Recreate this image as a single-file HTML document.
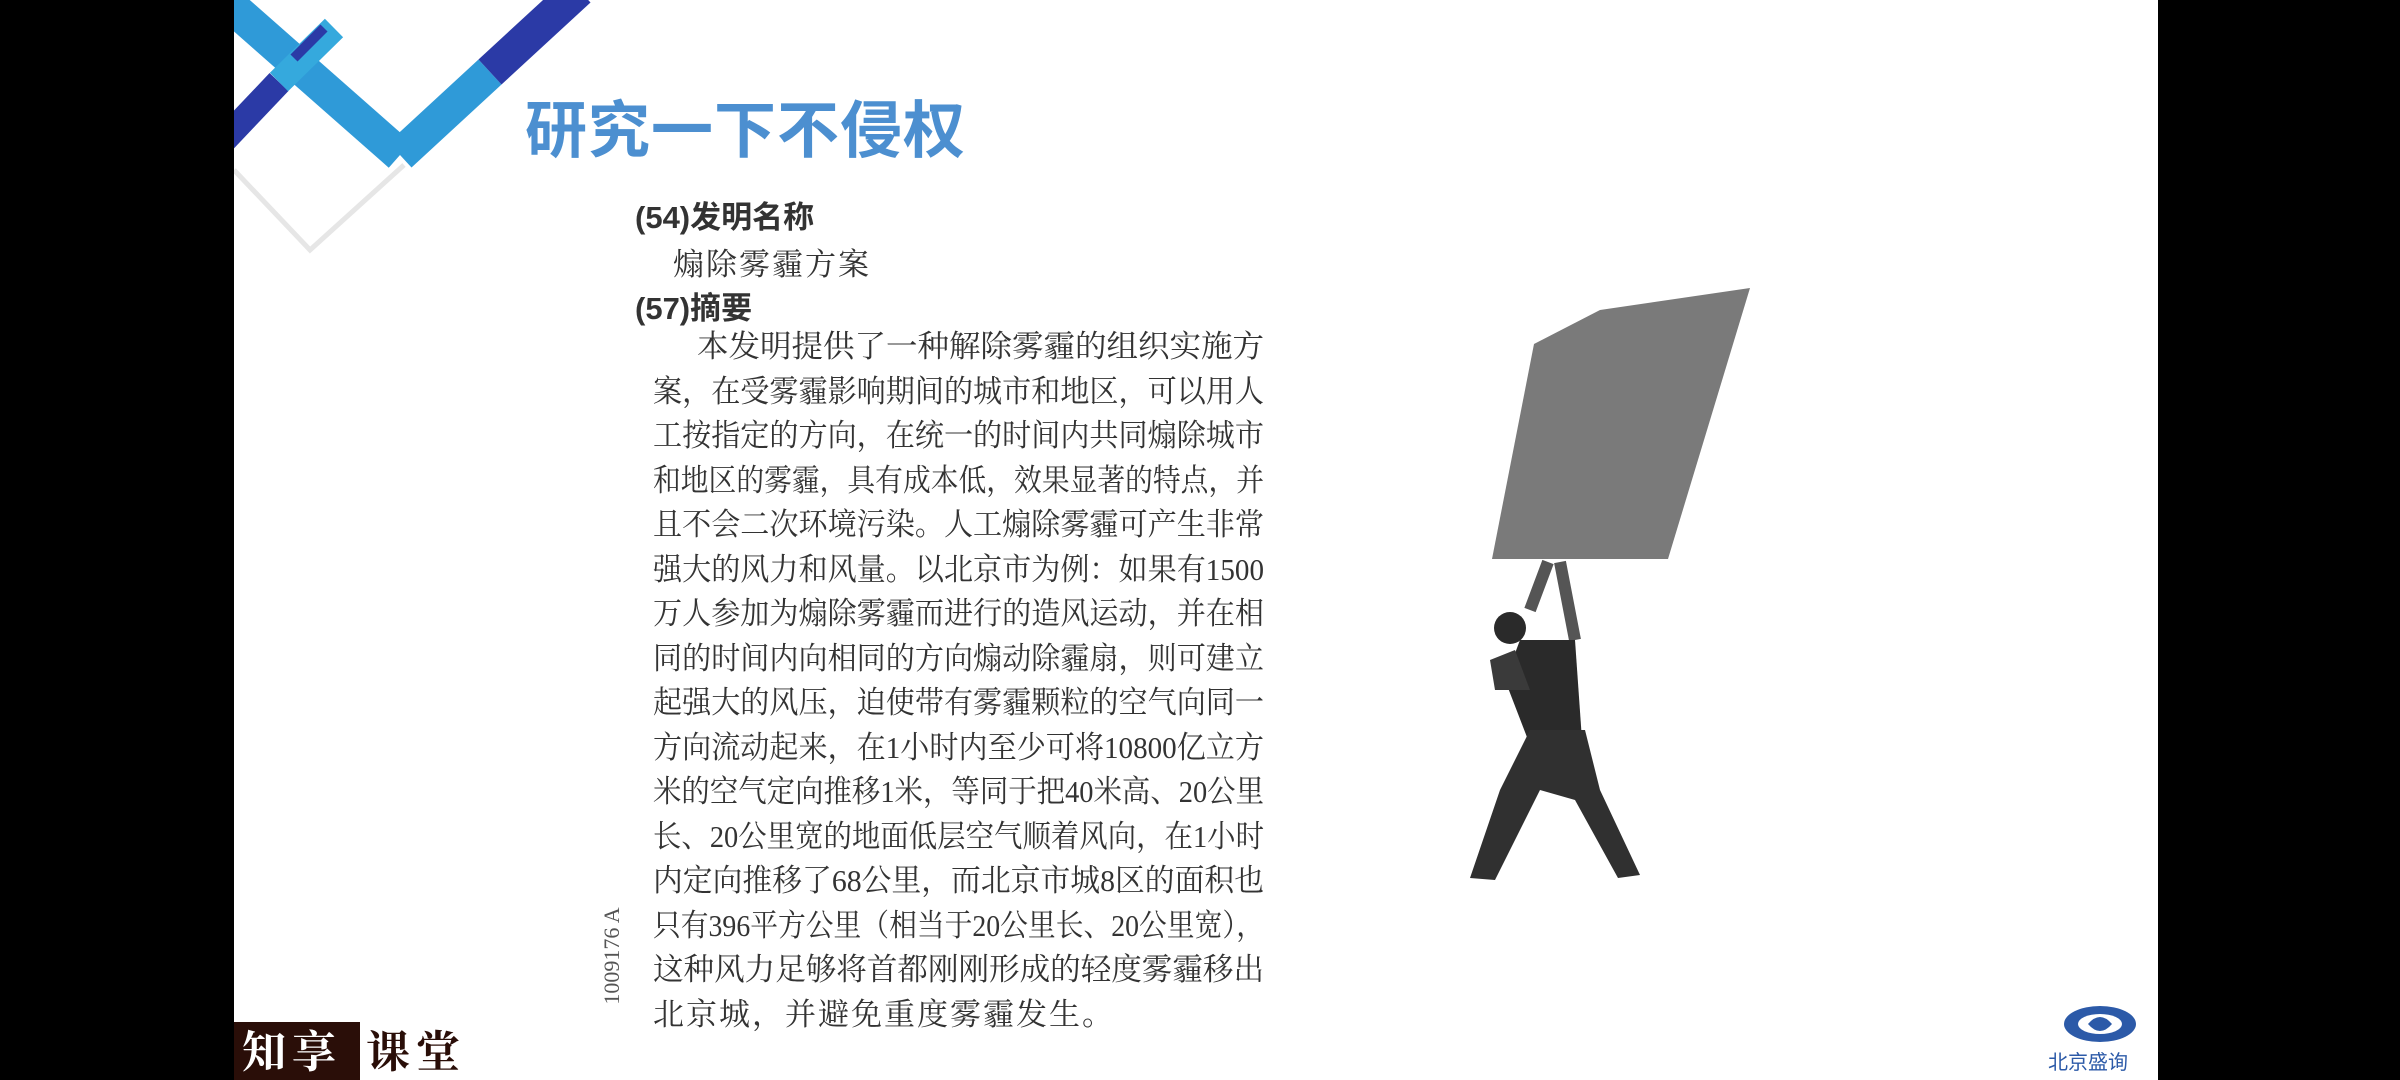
<!DOCTYPE html>
<html><head><meta charset="utf-8"><style>
body{margin:0;width:2400px;height:1080px;background:#000;overflow:hidden;position:relative;font-family:"Liberation Serif","Noto Serif CJK SC",serif}
#slide{position:absolute;left:234px;top:0;width:1924px;height:1080px;background:#fff;overflow:hidden}
.t{position:absolute;white-space:nowrap;color:#2a2a2a}
.ln{position:absolute;left:653px;font-size:31px;color:#333;line-height:44px;white-space:nowrap;transform-origin:0 50%}
</style></head><body>
<div id="slide">
<svg width="1924" height="1080" style="position:absolute;left:0;top:0">
 <polyline points="0,170 76,250 170,165" fill="none" stroke="#e6e6e6" stroke-width="5"/>
 <line x1="-10" y1="0" x2="166" y2="155" stroke="#2f9ad8" stroke-width="34"/>
 <line x1="166" y1="155" x2="256" y2="72" stroke="#2f9ad8" stroke-width="34"/>
 <line x1="256" y1="72" x2="345" y2="-10" stroke="#2b3aa6" stroke-width="34"/>
 <line x1="-10" y1="140" x2="45" y2="82" stroke="#2b3aa6" stroke-width="26"/>
 <line x1="45" y1="82" x2="100" y2="28" stroke="#35a9dd" stroke-width="26"/>
 <line x1="60" y1="58" x2="90" y2="28" stroke="#2b3aa6" stroke-width="10"/>
</svg>
<div class="t" style="left:291px;top:80px;font:bold 62px 'Liberation Sans','Noto Sans CJK SC',sans-serif;color:#4c8fd0;letter-spacing:1px">研究一下不侵权</div>
<div class="t" style="left:293px;top:943px;width:170px;text-align:center;transform:rotate(-90deg);font-size:22px;color:#555">1009176 A</div>
<div style="position:absolute;left:0;top:1022px;width:126px;height:58px;background:#2a0e08"></div>
<div class="t" style="left:8px;top:1016px;font:bold 44px 'Liberation Serif','Noto Serif CJK SC',serif;color:#fff;letter-spacing:6px">知享</div>
<div class="t" style="left:132px;top:1016px;font:bold 44px 'Liberation Serif','Noto Serif CJK SC',serif;color:#2a0e08;letter-spacing:6px">课堂</div>
<svg width="80" height="40" style="position:absolute;left:1826px;top:1004px">
 <ellipse cx="40" cy="20" rx="36" ry="18" fill="#2c5aa8"/><ellipse cx="40" cy="20" rx="22" ry="10" fill="#fff"/><path d="M28 20 q12 -14 24 0 q-12 14 -24 0" fill="#2c5aa8"/>
</svg>
<div class="t" style="left:1814px;top:1046px;font:20px 'Liberation Sans','Noto Sans CJK SC',sans-serif;color:#2c5aa8">北京盛询</div>
</div>
<div class="t" style="left:635px;top:192px;font:bold 31px 'Liberation Sans','Noto Sans CJK SC',sans-serif;color:#333">(54)发明名称</div>
<div class="t" style="left:673px;top:239px;font-size:31px;letter-spacing:2px;color:#333">煽除雾霾方案</div>
<div class="t" style="left:635px;top:283px;font:bold 31px 'Liberation Sans','Noto Sans CJK SC',sans-serif;color:#333">(57)摘要</div>
<div>
<div class="ln" data-w="567" style="top:325px;left:697px">本发明提供了一种解除雾霾的组织实施方</div>
<div class="ln" data-w="611" style="top:370px">案，在受雾霾影响期间的城市和地区，可以用人</div>
<div class="ln" data-w="611" style="top:414px">工按指定的方向，在统一的时间内共同煽除城市</div>
<div class="ln" data-w="611" style="top:459px">和地区的雾霾，具有成本低，效果显著的特点，并</div>
<div class="ln" data-w="611" style="top:503px">且不会二次环境污染。人工煽除雾霾可产生非常</div>
<div class="ln" data-w="611" style="top:548px">强大的风力和风量。以北京市为例：如果有1500</div>
<div class="ln" data-w="611" style="top:592px">万人参加为煽除雾霾而进行的造风运动，并在相</div>
<div class="ln" data-w="611" style="top:637px">同的时间内向相同的方向煽动除霾扇，则可建立</div>
<div class="ln" data-w="611" style="top:681px">起强大的风压，迫使带有雾霾颗粒的空气向同一</div>
<div class="ln" data-w="611" style="top:726px">方向流动起来，在1小时内至少可将10800亿立方</div>
<div class="ln" data-w="611" style="top:770px">米的空气定向推移1米，等同于把40米高、20公里</div>
<div class="ln" data-w="611" style="top:815px">长、20公里宽的地面低层空气顺着风向，在1小时</div>
<div class="ln" data-w="611" style="top:859px">内定向推移了68公里，而北京市城8区的面积也</div>
<div class="ln" data-w="611" style="top:904px">只有396平方公里（相当于20公里长、20公里宽），</div>
<div class="ln" data-w="611" style="top:948px">这种风力足够将首都刚刚形成的轻度雾霾移出</div>
<div class="ln" style="top:993px;letter-spacing:2px">北京城，并避免重度雾霾发生。</div>
</div>
<svg width="2400" height="1080" style="position:absolute;left:0;top:0">
 <polygon points="1534,344 1600,310 1750,288 1668,559 1492,559" fill="#7a7a7a"/>
 <path d="M1548,562 L1530,610 M1560,562 L1575,640" stroke="#555" stroke-width="12" fill="none"/>
 <circle cx="1510" cy="628" r="16" fill="#2a2a2a"/>
 <polygon points="1520,640 1575,640 1582,740 1530,745 1505,680" fill="#2a2a2a"/>
 <polygon points="1530,730 1585,730 1600,790 1640,875 1618,878 1575,800 1540,790 1495,880 1470,878 1500,790" fill="#303030"/>
 <polygon points="1490,660 1515,650 1530,690 1495,690" fill="#3a3a3a"/>
</svg>
<script>
document.querySelectorAll('.ln[data-w]').forEach(function(el){
  var w=el.getBoundingClientRect().width, t=+el.getAttribute('data-w');
  if(w>0) el.style.transform='scaleX('+(t/w)+')';
});
</script>
</body></html>
